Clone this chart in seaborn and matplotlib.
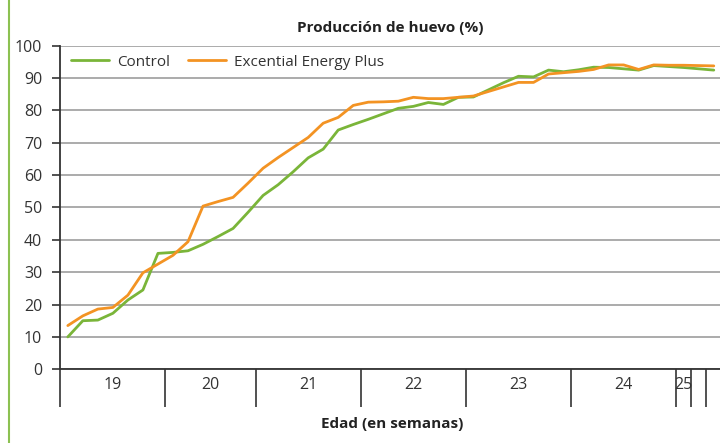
import numpy as np
import pandas as pd
import matplotlib
matplotlib.use("Agg")
import matplotlib.pyplot as plt
import matplotlib.transforms as mtransforms
from matplotlib.lines import Line2D
import seaborn as sns

# ---- data ----
control = [10.0, 15.0, 15.2, 17.3, 21.4, 24.5, 35.8,
           36.1, 36.6, 38.6, 41.0, 43.5, 48.5,
           53.7, 57.0, 61.0, 65.3, 68.0, 73.9, 75.6,
           77.2, 78.9, 80.6, 81.2, 82.4, 81.8, 84.0,
           84.1, 86.3, 88.5, 90.5, 90.3, 92.4, 91.9,
           92.5, 93.3, 93.2, 92.8, 92.4, 93.8, 93.5,
           93.2, 92.8, 92.4]
energy = [13.5, 16.5, 18.6, 19.1, 22.9, 29.8, 32.5,
          35.2, 39.4, 50.4, 51.8, 53.1, 57.5,
          62.1, 65.4, 68.5, 71.6, 76.0, 77.8, 81.5,
          82.5, 82.6, 82.8, 84.0, 83.6, 83.6, 84.0,
          84.4, 85.8, 87.2, 88.6, 88.6, 91.2, 91.6,
          92.0, 92.6, 94.0, 94.0, 92.6, 94.0, 93.9,
          93.9, 93.8, 93.7]
week_labels = ["19", "20", "21", "22", "23", "24", "25", "", ""]
week_sizes = [7, 6, 7, 7, 7, 7, 1, 1, 1]
series_names = ["Control", "Excential Energy Plus"]
colors = ["#7ab539", "#f39323"]

n = len(control)
df = pd.DataFrame({
    "idx": list(range(n)) * 2,
    "val": control + energy,
    "serie": [series_names[0]] * n + [series_names[1]] * n,
})

sns.set_theme(style="white")
plt.rcParams["font.family"] = ["Open Sans", "DejaVu Sans"]

fig = plt.figure(figsize=(7.2, 4.43), dpi=100)
W, H = 720, 443
x0, x1, y0, y1 = 60.3, 721.3, 369.3, 45.5
ax = fig.add_axes([x0 / W, (H - y0) / H, (x1 - x0) / W, (y0 - y1) / H])

ax.set_ylim(0, 100)
ax.set_xlim(-0.5, n - 0.5)
ax.set_yticks(range(0, 101, 10))
ax.yaxis.grid(True, color="#ababab", linewidth=1.4)
ax.set_axisbelow(True)

sns.lineplot(data=df, x="idx", y="val", hue="serie", palette=colors,
             linewidth=2.0, ax=ax, legend=False)

for s in ["top", "right"]:
    ax.spines[s].set_visible(False)
for s in ["left", "bottom"]:
    ax.spines[s].set_color("#333333")
    ax.spines[s].set_linewidth(1.3)

ax.tick_params(axis="y", which="major", left=True, length=6, width=1.2,
               color="#333333", pad=7, labelsize=11.5, labelcolor="#333333")

# week separator ticks
bounds = np.cumsum([0] + week_sizes) - 0.5
ax.set_xticks(bounds[:-1])
ax.set_xticklabels([])
ax.tick_params(axis="x", which="major", bottom=True, length=27, width=1.2,
               color="#333333")

trans = mtransforms.blended_transform_factory(ax.transData, ax.transAxes)
for lab, a, b in zip(week_labels, bounds[:-1], bounds[1:]):
    if lab:
        ax.text((a + b) / 2, -0.048, lab, transform=trans, ha="center",
                va="center", fontsize=11.5, color="#333333")

ax.set_xlabel("")
ax.set_ylabel("")

handles = [Line2D([], [], color=c, linewidth=2.0) for c in colors]
leg = ax.legend(handles, series_names, loc="upper left", ncol=2, frameon=False,
                fontsize=11, handlelength=2.5, handletextpad=0.5,
                columnspacing=1.2, borderaxespad=0.3,
                bbox_to_anchor=(0.0, 1.005), labelcolor="#333333")

fig.text(390 / W, 1 - 28 / H, "Producción de huevo (%)", ha="center",
         va="center", fontsize=11, fontweight="bold", color="#222222")
fig.text(392 / W, 1 - 424 / H, "Edad (en semanas)", ha="center",
         va="center", fontsize=11, fontweight="bold", color="#222222")

# left decorative border
fig.add_artist(Line2D([8.5 / W, 8.5 / W], [0, 1], transform=fig.transFigure,
                      color="#8cc152", linewidth=1.5))

fig.savefig("out.png", dpi=100)
